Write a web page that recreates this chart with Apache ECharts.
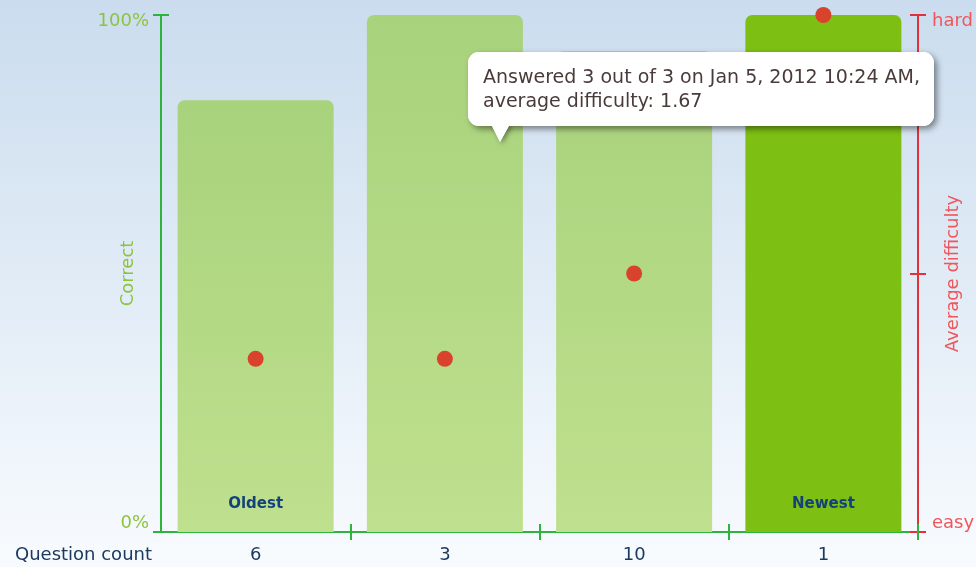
<!DOCTYPE html>
<html>
<head>
<meta charset="utf-8">
<script src="https://cdn.jsdelivr.net/npm/echarts@6/dist/echarts.min.js"></script>
<style>
html,body{margin:0;padding:0;}
#chart{width:976px;height:567px;}
</style>
</head>
<body>
<div id="chart"></div>
<script>
// ---- data ----
var questionCounts = ['6', '3', '10', '1'];
var correctPct = [83.5, 100, 93, 100];
var avgDifficulty = [1.67, 1.67, 2.0, 3.0];
var barLabels = ['Oldest', '', '', 'Newest'];
var difficultyTicks = {1: 'easy', 3: 'hard'};
var correctTicks = {0: '0%', 100: '100%'};
var tipIndex = 1;
var tipDate = 'Jan 5, 2012 10:24 AM';

var FONT = 'DejaVu Sans';
var GREEN_LINE = '#2db43c';
var GREEN_TEXT = '#8cc43f';
var RED_LINE = '#e2313b';
var RED_TEXT = '#f0565c';
var NAVY = '#1c3a60';

var lightBar = new echarts.graphic.LinearGradient(0, 0, 0, 1, [
  {offset: 0, color: '#a8d27c'},
  {offset: 1, color: '#bfe08e'}
]);
var barData = correctPct.map(function (v, i) {
  return {
    value: v,
    itemStyle: {color: i === correctPct.length - 1 ? '#7dbf13' : lightBar}
  };
});

var chart = echarts.init(document.getElementById('chart'));

var tipText = 'Answered ' + questionCounts[tipIndex] + ' out of ' + questionCounts[tipIndex] +
  ' on ' + tipDate + ',\naverage difficulty: ' + avgDifficulty[tipIndex].toFixed(2);

var option = {
  animation: false,
  backgroundColor: new echarts.graphic.LinearGradient(0, 0, 0, 1, [
    {offset: 0, color: '#cadcee'},
    {offset: 1, color: '#f8fbfe'}
  ]),
  textStyle: {fontFamily: FONT},
  grid: {left: 161, right: 58, top: 15, bottom: 35, containLabel: false, outerBoundsMode: 'none'},
  xAxis: [{
    type: 'category',
    data: questionCounts,
    boundaryGap: true,
    name: '{q|Question count}',
    nameLocation: 'start',
    nameGap: 9,
    nameMoveOverlap: false,
    nameTextStyle: {
      align: 'right', verticalAlign: 'middle',
      rich: {q: {fontFamily: FONT, fontSize: 18, color: NAVY, padding: [46, 0, 0, 0]}}
    },
    axisLine: {lineStyle: {color: GREEN_LINE, width: 2}},
    axisTick: {show: true, length: 8, lineStyle: {color: GREEN_LINE, width: 2},
      interval: function (i) { return i !== 0; }},
    axisLabel: {fontFamily: FONT, fontSize: 18, color: NAVY, margin: 14},
    splitLine: {show: false}
  }, {
    type: 'category',
    data: questionCounts,
    position: 'bottom',
    boundaryGap: true,
    axisLine: {show: false},
    axisTick: {show: true, inside: true, length: 8, lineStyle: {color: GREEN_LINE, width: 2},
      interval: function (i) { return i !== 0; }},
    axisLabel: {show: false},
    splitLine: {show: false}
  }],
  yAxis: [{
    type: 'value',
    min: 0, max: 100, interval: 100,
    position: 'left',
    name: 'Correct',
    nameLocation: 'middle',
    nameRotate: 90,
    nameGap: 24,
    nameMoveOverlap: false,
    nameTextStyle: {fontFamily: FONT, fontSize: 18, color: GREEN_TEXT},
    axisLine: {show: true, lineStyle: {color: GREEN_LINE, width: 2}},
    axisTick: {show: true, length: 8, lineStyle: {color: GREEN_LINE, width: 2}},
    axisLabel: {
      margin: 12,
      formatter: function (v) {
        return v === 100 ? '{top|' + correctTicks[v] + '}' : '{bot|' + correctTicks[v] + '}';
      },
      rich: {
        top: {fontFamily: FONT, fontSize: 18, color: GREEN_TEXT, padding: [13, 0, 0, 0]},
        bot: {fontFamily: FONT, fontSize: 18, color: GREEN_TEXT, padding: [0, 0, 18, 0]}
      }
    },
    splitLine: {show: false}
  }, {
    type: 'value',
    min: 1, max: 3, interval: 1,
    position: 'right',
    name: 'Average difficulty',
    nameLocation: 'middle',
    nameRotate: 90,
    nameGap: 26,
    nameMoveOverlap: false,
    nameTextStyle: {fontFamily: FONT, fontSize: 18, color: RED_TEXT},
    axisLine: {show: true, lineStyle: {color: RED_LINE, width: 2}},
    axisTick: {show: true, length: 8, lineStyle: {color: RED_LINE, width: 2}},
    axisLabel: {
      margin: 14,
      formatter: function (v) {
        var t = difficultyTicks[v] || '';
        return v === 3 ? '{top|' + t + '}' : '{bot|' + t + '}';
      },
      rich: {
        top: {fontFamily: FONT, fontSize: 18, color: RED_TEXT, padding: [13, 0, 0, 0]},
        bot: {fontFamily: FONT, fontSize: 18, color: RED_TEXT, padding: [0, 0, 18, 0]}
      }
    },
    splitLine: {show: false}
  }, {
    type: 'value',
    min: 0, max: 100, interval: 100,
    position: 'left',
    axisLine: {show: false},
    axisTick: {show: true, inside: true, length: 8, lineStyle: {color: GREEN_LINE, width: 2}},
    axisLabel: {show: false},
    splitLine: {show: false}
  }, {
    type: 'value',
    min: 1, max: 3, interval: 1,
    position: 'right',
    axisLine: {show: false},
    axisTick: {show: true, inside: true, length: 8, lineStyle: {color: RED_LINE, width: 2}},
    axisLabel: {show: false},
    splitLine: {show: false}
  }],
  series: [{
    type: 'bar',
    xAxisIndex: 0,
    yAxisIndex: 0,
    data: barData,
    barWidth: 156,
    itemStyle: {borderRadius: [7, 7, 0, 0]},
    label: {
      show: true,
      position: 'insideBottom',
      distance: 20,
      formatter: function (p) { return barLabels[p.dataIndex]; },
      fontFamily: FONT, fontSize: 15, fontWeight: 'bold', color: '#13427a'
    }
  }, {
    type: 'scatter',
    xAxisIndex: 0,
    yAxisIndex: 1,
    data: avgDifficulty,
    symbol: 'circle',
    symbolSize: 16,
    itemStyle: {color: '#d9432d', opacity: 1},
    z: 5
  }],
  graphic: [
    {type: 'rect', z: 100, shape: {x: 468, y: 52, width: 466, height: 74, r: 11},
      style: {fill: '#fff', shadowBlur: 6, shadowColor: 'rgba(0,0,0,0.45)', shadowOffsetX: 3, shadowOffsetY: 3}},
    {type: 'polygon', z: 101, shape: {points: [[491, 124], [510, 124], [500, 142]]},
      style: {fill: '#fff', shadowBlur: 5, shadowColor: 'rgba(0,0,0,0.4)', shadowOffsetX: 2, shadowOffsetY: 2}},
    {type: 'rect', z: 102, shape: {x: 468, y: 52, width: 466, height: 74, r: 11}, style: {fill: '#fff'}},
    {type: 'polygon', z: 103, shape: {points: [[491, 124], [510, 124], [500, 142]]}, style: {fill: '#fff'}},
    {type: 'text', z: 104, x: 483, y: 66,
      style: {text: tipText, fontFamily: FONT, fontSize: 19, lineHeight: 24, fill: '#4a3b3b',
        verticalAlign: 'top'}}
  ]
};
chart.setOption(option);
</script>
</body>
</html>
